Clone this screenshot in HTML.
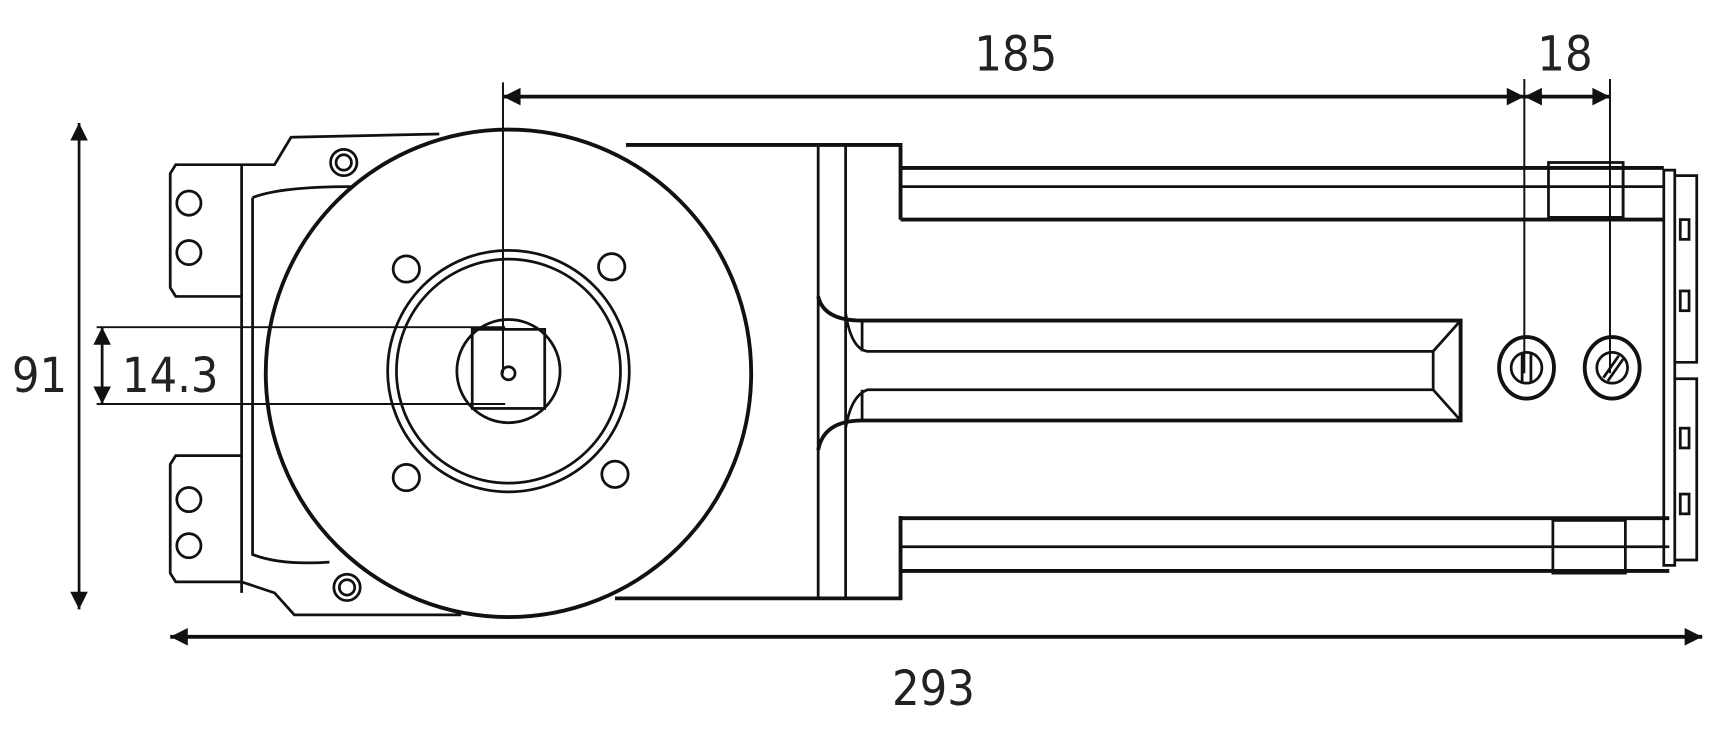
<!DOCTYPE html>
<html><head><meta charset="utf-8"><style>
html,body{margin:0;padding:0;background:#fff}
svg{display:block}
text{font-family:"DejaVu Sans Condensed","Liberation Sans",sans-serif;fill:#222}
</style></head><body>
<svg width="1722" height="740" viewBox="0 0 1568 674" preserveAspectRatio="none" xmlns="http://www.w3.org/2000/svg">
<defs>
<marker id="b" viewBox="0 0 10 10" refX="10" refY="5" markerWidth="34" markerHeight="16" orient="auto-start-reverse" markerUnits="userSpaceOnUse">
<path d="M0,0 L10,5 L0,10 z" fill="#111"/></marker>
</defs>
<g stroke="#111" fill="none" stroke-width="2.5">
<line x1="72" y1="112" x2="72" y2="555" stroke-width="2.5" marker-start="url(#b)" marker-end="url(#b)"/>
<line x1="155" y1="580" x2="1550" y2="580" stroke-width="3.5" marker-start="url(#b)" marker-end="url(#b)"/>
<!-- left bracket -->
<path d="M220,150 L160,150 L155,158 L155,262 L160,270 L220,270"/>
<path d="M220,415 L160,415 L155,423 L155,522 L160,530 L220,530"/>
<circle cx="172" cy="185" r="11"/><circle cx="172" cy="230" r="11"/>
<circle cx="172" cy="455" r="11"/><circle cx="172" cy="497" r="11"/>
<path d="M220,150 L220,540"/>
<path d="M220,150 L250,150 L265,125 L400,122"/>
<path d="M230,180 Q255,170 320,170"/>
<path d="M230,180 L230,505 Q255,515 300,512"/>
<path d="M220,530 L250,540 L268,560 L420,560"/>
<circle cx="313" cy="148" r="12"/><circle cx="313" cy="148" r="7"/>
<circle cx="316" cy="535" r="12"/><circle cx="316" cy="535" r="7"/>
<!-- big disc -->
<ellipse cx="463" cy="340" rx="221" ry="222" fill="#fff" stroke-width="3.5"/>
<circle cx="463" cy="338" r="110"/>
<circle cx="463" cy="338" r="102"/>
<circle cx="463" cy="338" r="47"/>
<rect x="430" y="300" width="66" height="72"/>
<circle cx="463" cy="340" r="6"/>
<circle cx="370" cy="245" r="12"/><circle cx="557" cy="243" r="12"/>
<circle cx="370" cy="435" r="12"/><circle cx="560" cy="432" r="12"/>
<!-- dimension lines -->
<line x1="458" y1="75" x2="458" y2="340" stroke-width="1.8"/>
<line x1="1388" y1="72" x2="1388" y2="340" stroke-width="1.8"/>
<line x1="1466" y1="72" x2="1466" y2="340" stroke-width="1.8"/>
<line x1="458" y1="88" x2="1388" y2="88" stroke-width="3.5" marker-start="url(#b)" marker-end="url(#b)"/>
<line x1="1388" y1="88" x2="1466" y2="88" stroke-width="3.5" marker-start="url(#b)" marker-end="url(#b)"/>
<line x1="88" y1="298" x2="460" y2="298" stroke-width="1.8"/>
<line x1="88" y1="368" x2="460" y2="368" stroke-width="1.8"/>
<line x1="93" y1="298" x2="93" y2="368" stroke-width="2.5" marker-start="url(#b)" marker-end="url(#b)"/>
<!-- body -->
<path d="M570,132 L820,132 L820,200" stroke-width="3.5"/>
<path d="M560,545 L820,545 L820,470" stroke-width="3.5"/>
<line x1="745" y1="132" x2="745" y2="545"/>
<line x1="770" y1="132" x2="770" y2="545"/>
<line x1="820" y1="153" x2="1515" y2="153" stroke-width="3.5"/>
<line x1="820" y1="170" x2="1515" y2="170"/>
<line x1="820" y1="200" x2="1515" y2="200" stroke-width="3.5"/>
<line x1="820" y1="472" x2="1520" y2="472" stroke-width="3.5"/>
<line x1="820" y1="498" x2="1520" y2="498"/>
<line x1="820" y1="520" x2="1520" y2="520" stroke-width="3.5"/>
<rect x="1410" y="148" width="68" height="50"/>
<rect x="1414" y="474" width="66" height="48"/>
<line x1="1478" y1="153" x2="1478" y2="200"/>
<path d="M1515,155 L1525,155 L1525,515 L1515,515 Z"/>
<path d="M1525,160 L1545,160 L1545,330 L1525,330 M1525,345 L1545,345 L1545,510 L1525,510"/>
<rect x="1530" y="200" width="8" height="18"/><rect x="1530" y="265" width="8" height="18"/>
<rect x="1530" y="390" width="8" height="18"/><rect x="1530" y="450" width="8" height="18"/>
<!-- slot -->
<path d="M745,270 Q750,292 785,292 L1330,292 L1330,383 L785,383 Q750,383 745,410" stroke-width="3.5"/>
<path d="M770,285 Q775,318 790,320 L1305,320 L1305,355 L790,355 Q775,360 770,390"/>
<line x1="1305" y1="320" x2="1330" y2="292"/><line x1="1305" y1="355" x2="1330" y2="383"/>
<line x1="785" y1="292" x2="785" y2="320"/><line x1="785" y1="355" x2="785" y2="383"/>
<!-- screws -->
<ellipse cx="1390" cy="335" rx="25" ry="28" stroke-width="3.5"/>
<circle cx="1390" cy="335" r="14"/>
<line x1="1386" y1="322" x2="1386" y2="348"/><line x1="1394" y1="322" x2="1394" y2="348"/>
<ellipse cx="1468" cy="335" rx="25" ry="28" stroke-width="3.5"/>
<circle cx="1468" cy="335" r="14"/>
<line x1="1460" y1="344" x2="1474" y2="324"/><line x1="1464" y1="347" x2="1478" y2="327"/>
</g>
<text x="925" y="64" font-size="44" text-anchor="middle">185</text>
<text x="1425" y="64" font-size="44" text-anchor="middle">18</text>
<text x="36" y="357" font-size="44" text-anchor="middle">91</text>
<text x="155" y="357" font-size="44" text-anchor="middle">14.3</text>
<text x="850" y="642" font-size="44" text-anchor="middle">293</text>
</svg>
</body></html>
